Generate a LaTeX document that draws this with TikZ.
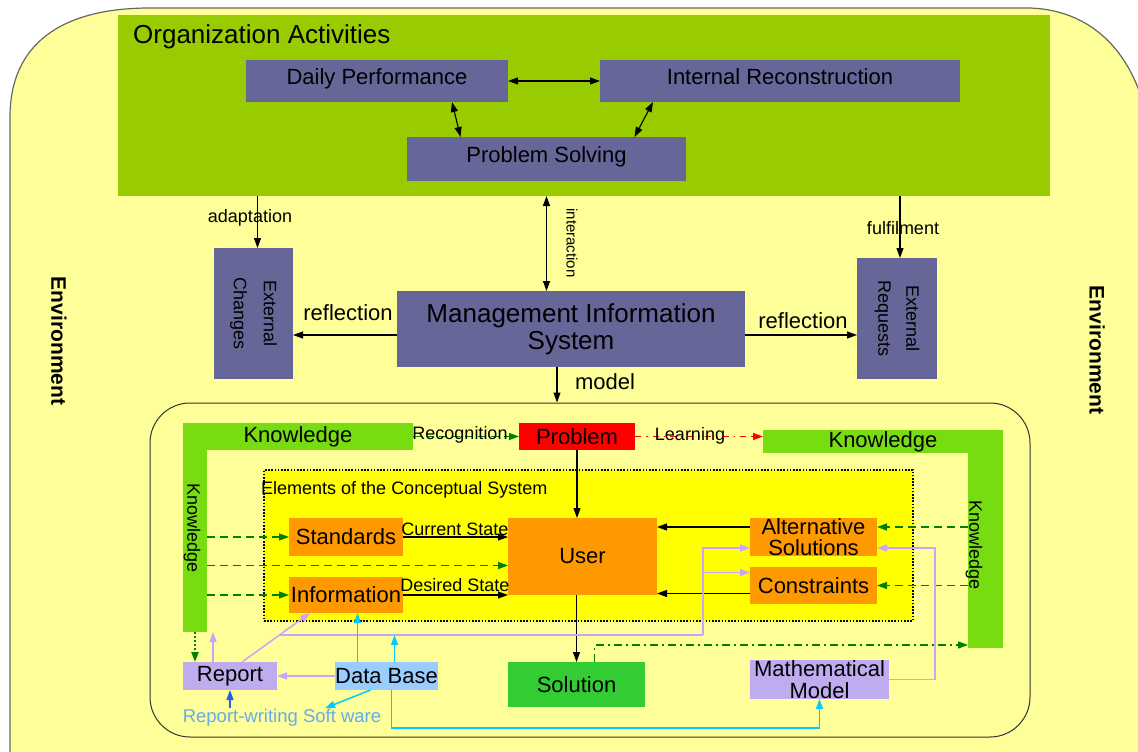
\documentclass[tikz,border=0pt]{standalone}
\usepackage{fontspec}
\setmainfont{Liberation Sans}
\usetikzlibrary{arrows.meta,positioning,calc}
\definecolor{EnvYellow}{RGB}{255,255,153}
\definecolor{OrgGreen}{RGB}{153,204,0}
\definecolor{Slate}{RGB}{102,102,153}
\definecolor{KnowGreen}{RGB}{119,221,17}
\definecolor{ConcYellow}{RGB}{255,255,0}
\definecolor{BoxOrange}{RGB}{255,153,0}
\definecolor{SolGreen}{RGB}{51,204,51}
\definecolor{Lavender}{RGB}{190,172,238}
\definecolor{DbBlue}{RGB}{153,204,255}
\definecolor{LinePurple}{RGB}{204,162,255}
\definecolor{LineCyan}{RGB}{0,204,255}
\definecolor{DashGreen}{RGB}{0,128,0}
\definecolor{SoftBlue}{RGB}{102,170,238}
\definecolor{DarkBlue}{RGB}{40,90,230}

\begin{document}
\begin{tikzpicture}[x=1pt,y=-1pt,
    bx/.style={inner sep=0pt,outer sep=0pt,align=center},
    f26/.style={font=\fontsize{26}{26}\selectfont},
    f22/.style={font=\fontsize{22}{22}\selectfont},
    f18/.style={font=\fontsize{18}{18}\selectfont},
    arr/.style={-{Triangle[length=10pt,width=7pt]},line width=1.1pt},
    dbl/.style={{Triangle[length=10pt,width=7pt]}-{Triangle[length=10pt,width=7pt]},line width=1.1pt},
    garr/.style={arr,DashGreen,line width=1.4pt,dash pattern=on 8pt off 5pt},
    parr/.style={arr,LinePurple,line width=1.5pt},
    carr/.style={arr,LineCyan,line width=1.5pt}
  ]
  \useasboundingbox (0,0) rectangle (1138,752);
  \clip (0,0) rectangle (1138,752);
  \draw[line width=1.2pt,draw=gray!80!black,fill=EnvYellow] (10,800) -- (10,117)
    .. controls (10,45) and (60,8) .. (150,8) -- (1030,8)
    .. controls (1090,10) and (1130,50) .. (1145,110) -- (1145,800) -- cycle;
  \node[rotate=-90,font=\bfseries\fontsize{21}{21}\selectfont] (envl) at (59,341) {Environment};
  \node[rotate=-90,font=\bfseries\fontsize{21}{21}\selectfont] (envr) at (1097,350) {Environment};

  % Organization activities
  \node[bx,fill=OrgGreen,minimum width=932pt,minimum height=181pt] (org) at (584,105.5) {};
  \node[anchor=west,inner sep=0pt,f26] (orgt) at (133,37) {Organization Activities};
  \node[bx,fill=Slate,f22,minimum width=262pt,minimum height=42pt,text depth=9pt] (dp) at (377,81) {Daily Performance};
  \node[bx,fill=Slate,f22,minimum width=360pt,minimum height=42pt,text depth=9pt] (ir) at (780,81) {Internal Reconstruction};
  \node[bx,fill=Slate,f22,minimum width=279pt,minimum height=44pt,text depth=9pt] (ps) at (546.5,159) {Problem Solving};
  \draw[dbl] (dp) -- (ir);
  \draw[dbl] ([xshift=75pt]dp.south) -- ([xshift=-86pt]ps.north);
  \draw[dbl] ([xshift=-127pt]ir.south) -- ([xshift=88pt]ps.north);

  \node[bx,fill=Slate,minimum width=79pt,minimum height=131pt] (ec) at (253.5,313.5) {};
  \node[rotate=-90,align=center,font=\fontsize{18}{30}\selectfont] (ect) at (ec) {External\\Changes};
  \node[bx,fill=Slate,minimum width=80pt,minimum height=121pt] (er) at (897,318.5) {};
  \node[rotate=-90,align=center,font=\fontsize{18}{28}\selectfont] (ert) at (er) {External\\Requests};
  \node[bx,fill=Slate,font=\fontsize{26}{27}\selectfont,minimum width=348pt,minimum height=76pt] (mis) at (571,329) {Management Information\\System};

  \draw[arr] ([xshift=4pt]ec.north |- org.south) -- ([xshift=4pt]ec.north);
  \node[f18] (adl) at (250,218) {adaptation};
  \draw[arr] ([xshift=3pt]er.north |- org.south) -- ([xshift=3pt]er.north);
  \node[f18] (ful) at (903,228) {fulfilment};
  \draw[dbl] (ps.south |- org.south) -- (ps.south |- mis.north);
  \node[rotate=-90,font=\fontsize{15}{15}\selectfont] (intl) at (572,243) {interaction};
  \draw[arr] ([yshift=-6pt]mis.west) -- ([yshift=-6pt]mis.west -| ec.east);
  \node[f22] (rfl) at (348,313) {reflection};
  \draw[arr] ([yshift=-6pt]mis.east) -- ([yshift=-6pt]mis.east -| er.west);
  \node[f22] (rfr) at (803,321) {reflection};

  % Conceptual system
  \node[draw=black!80,line width=1pt,rounded corners=40pt,minimum width=880pt,minimum height=334pt] (lab) at (590,570) {};
  \draw[arr] ([xshift=-14pt]mis.south) -- ([xshift=-14pt]mis.south |- lab.north);
  \node[f22] (mdl) at (605,382) {model};

  \node[bx,fill=KnowGreen,minimum width=24pt,minimum height=209pt] (kv1) at (195,527.5) {};
  \node[bx,fill=KnowGreen,f22,minimum width=230pt,minimum height=27pt] (kh1) at (298,436.5) {Knowledge};
  \node[rotate=-90,f18] (kv1t) at (192,528) {Knowledge};
  \node[bx,fill=KnowGreen,minimum width=35pt,minimum height=218pt] (kv2) at (985.5,539) {};
  \node[bx,fill=KnowGreen,f22,minimum width=240pt,minimum height=23pt] (kh2) at (883,441.5) {Knowledge};
  \node[rotate=-90,f18] (kv2t) at (974,545) {Knowledge};
  \node[bx,fill=red,f22,minimum width=116pt,minimum height=27pt] (prob) at (577,436.5) {Problem};

  \node[draw,fill=ConcYellow,line width=2pt,dash pattern=on 1.6pt off 1.6pt,inner sep=0pt,minimum width=649pt,minimum height=151pt] (cs) at (588.5,545.5) {};
  \node[anchor=west,inner sep=0pt,f18] (cst) at (261,490) {Elements of the Conceptual System};
  \node[bx,fill=BoxOrange,f22,minimum width=114pt,minimum height=38pt] (std) at (346,537) {Standards};
  \node[bx,fill=BoxOrange,f22,minimum width=114pt,minimum height=36pt] (info) at (346,595) {Information};
  \node[bx,fill=BoxOrange,f22,minimum width=149pt,minimum height=77pt] (user) at (582.5,556.5) {User};
  \node[bx,fill=BoxOrange,font=\fontsize{22}{21}\selectfont,minimum width=127pt,minimum height=38pt] (alt) at (813.5,537) {Alternative\\Solutions};
  \node[bx,fill=BoxOrange,f22,minimum width=127pt,minimum height=37pt] (con) at (813.5,585.5) {Constraints};
  \node[bx,fill=SolGreen,f22,minimum width=137pt,minimum height=45pt] (sol) at (576.5,684.5) {Solution};
  \node[bx,fill=Lavender,font=\fontsize{22}{22}\selectfont,minimum width=139pt,minimum height=39pt] (mm) at (819.5,679.5) {Mathematical\\Model};
  \node[bx,fill=Lavender,f22,minimum width=94pt,minimum height=28pt] (rep) at (230,676) {Report};
  \node[bx,fill=DbBlue,f22,minimum width=103pt,minimum height=28pt] (db) at (386.5,676) {Data Base};
  \node[inner sep=1pt,text=SoftBlue,font=\fontsize{18.5}{18.5}\selectfont] (sw) at (282,718) {Report-writing Soft ware};

  \draw[garr] (kh1.east) -- (prob.west);
  \node[f18] (rec) at (460,435) {Recognition};
  \draw[arr,red,line width=1.1pt,dash pattern=on 6pt off 5pt on 1.5pt off 5pt] (prob.east) -- (prob.east -| kh2.west);
  \node[f18] (lrn) at (690,436) {Learning};
  \draw[arr] (prob.south) -- (prob.south |- user.north);
  \draw[arr] (user.south -| sol.north) -- (sol.north);
  \draw[arr] (std.east) -- (std.east -| user.west);
  \node[f18] (cur) at (455,529) {Current State};
  \draw[arr] (info.east) -- (info.east -| user.west);
  \node[f18] (des) at (455,585) {Desired State};
  \draw[arr] ([yshift=10pt]alt.west) -- ([yshift=10pt]alt.west -| user.east);
  \draw[arr] ([yshift=-8pt]con.west) -- ([yshift=-8pt]con.west -| user.east);

  \draw[garr] (std.west -| kv1.east) -- (std.west);
  \draw[garr] ([yshift=-9pt]user.west -| kv1.east) -- ([yshift=-9pt]user.west);
  \draw[garr] (info.west -| kv1.east) -- (info.west);
  \draw[garr] ([yshift=10pt]alt.east -| kv2.west) -- ([yshift=10pt]alt.east);
  \draw[garr] (con.east -| kv2.west) -- (con.east);
  \draw[arr,DashGreen,line width=1.4pt,dash pattern=on 8pt off 4pt on 2pt off 4pt] ([xshift=18pt]sol.north) |- ([yshift=3pt]kv2.south west);

  % Report and data base
  \draw[arr,DashGreen,line width=2pt,dash pattern=on 2pt off 2pt] (kv1.south) -- (kv1.south |- rep.north);
  \draw[parr] ([xshift=-17pt]rep.north) -- ([xshift=-17pt]rep.north |- kv1.south);
  \draw[parr] ([xshift=12pt]rep.north) -- ([xshift=-36pt]info.south);
  \coordinate (br) at (280,635);
  \coordinate (jn) at (703,635);
  \draw[LinePurple,line width=1.5pt] (br) -- (jn);
  \draw[parr] (jn) |- ([yshift=-11pt]alt.west);
  \draw[parr] ([yshift=13pt]con.west -| jn) -- ([yshift=13pt]con.west);
  \draw[parr] (mm.east) -- ++(46,0) |- ([yshift=-11pt]alt.east);
  \draw[parr] (db.west) -- (rep.east);
  \draw[carr] ([xshift=-29pt]db.north) -- ([xshift=-29pt]db.north |- info.south);
  \draw[carr] ([xshift=8pt]db.north) -- ([xshift=8pt]db.north |- br);
  \draw[carr] ([xshift=-16pt]db.south) -- ([xshift=43pt]sw.north);
  \draw[carr] ([xshift=5pt]db.south) -- ++(0,38) -| (mm.south);
  \draw[arr,DarkBlue] (sw.north -| rep.south) -- (rep.south);
\end{tikzpicture}
\end{document}
